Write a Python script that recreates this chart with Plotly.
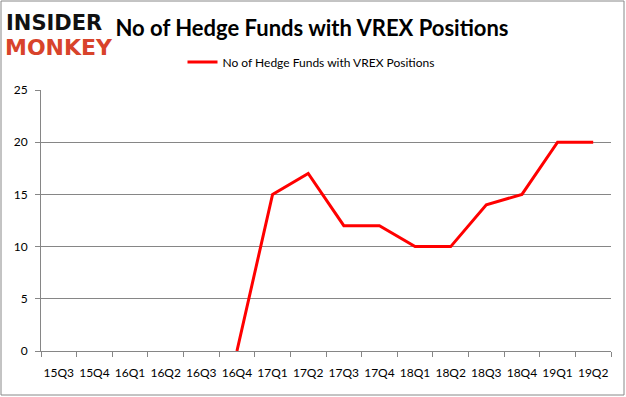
import plotly.graph_objects as go

quarters = ["15Q3", "15Q4", "16Q1", "16Q2", "16Q3", "16Q4", "17Q1", "17Q2",
            "17Q3", "17Q4", "18Q1", "18Q2", "18Q3", "18Q4", "19Q1", "19Q2"]
hedge_funds = [None, None, None, None, None, 0, 15, 17, 12, 12, 10, 10, 14, 15, 20, 20]
series_name = "No of Hedge Funds with VREX Positions"
y_ticks = [0, 5, 10, 15, 20, 25]

W, H = 626, 397
L, R, T, B = 41, 15, 90, 46
pw, ph = W - L - R, H - T - B

def px_x(x):
    return (x - L) / pw

def px_y(y):
    return (H - B - y) / ph

fig = go.Figure()
fig.add_trace(go.Scatter(
    x=quarters, y=hedge_funds, mode="lines", name=series_name,
    line=dict(color="#ff0000", width=3), connectgaps=False,
))

font = "Lato, 'Open Sans', sans-serif"
axis_col = "#868686"

fig.update_layout(
    width=W, height=H,
    margin=dict(l=L, r=R, t=T, b=B, autoexpand=False),
    paper_bgcolor="white", plot_bgcolor="white",
    font=dict(family=font, size=11, color="#000000"),
    title=dict(text="<b>No of Hedge Funds with VREX Positions</b>",
               x=312 / W, xanchor="center", y=1 - 28 / H, yanchor="middle",
               font=dict(family=font, size=22, color="#000000")),
    showlegend=True,
    legend=dict(orientation="h", x=px_x(311), xanchor="center",
                y=px_y(62), yanchor="middle", font=dict(size=12),
                bgcolor="rgba(0,0,0,0)"),
    xaxis=dict(type="category", range=[-0.5, 15.5], showgrid=False,
               showline=True, linecolor=axis_col, linewidth=1,
               ticks="outside", tickson="boundaries", ticklen=5,
               tickcolor=axis_col, tickfont=dict(size=12), tickangle=0,
               ticklabelstandoff=11, automargin=False, fixedrange=True),
    yaxis=dict(range=[0, 25], tickvals=y_ticks, showgrid=True,
               gridcolor=axis_col, gridwidth=1, showline=True,
               linecolor=axis_col, linewidth=1, ticks="outside", ticklen=5,
               tickcolor=axis_col, tickfont=dict(size=12), zeroline=False,
               ticklabelstandoff=5, automargin=False, fixedrange=True),
)

# outer chart border
fig.add_shape(type="rect", xref="paper", yref="paper",
              x0=px_x(1), x1=px_x(624), y0=px_y(395), y1=px_y(1),
              line=dict(color="#888888", width=1), layer="above")

# logo
fig.add_annotation(text="<b>INSIDER</b>", xref="paper", yref="paper",
                   x=px_x(4), y=px_y(23), xanchor="left", yanchor="middle",
                   showarrow=False,
                   font=dict(family="'DejaVu Sans', sans-serif", size=21, color="#111111"))
fig.add_annotation(text="<b>MONKEY</b>", xref="paper", yref="paper",
                   x=px_x(3), y=px_y(48), xanchor="left", yanchor="middle",
                   showarrow=False,
                   font=dict(family="'DejaVu Sans', sans-serif", size=22, color="#d8432b"))

fig.write_html("out.html", config={"displayModeBar": False},
               post_script="document.body.style.margin='0';document.body.style.overflow='hidden';")
